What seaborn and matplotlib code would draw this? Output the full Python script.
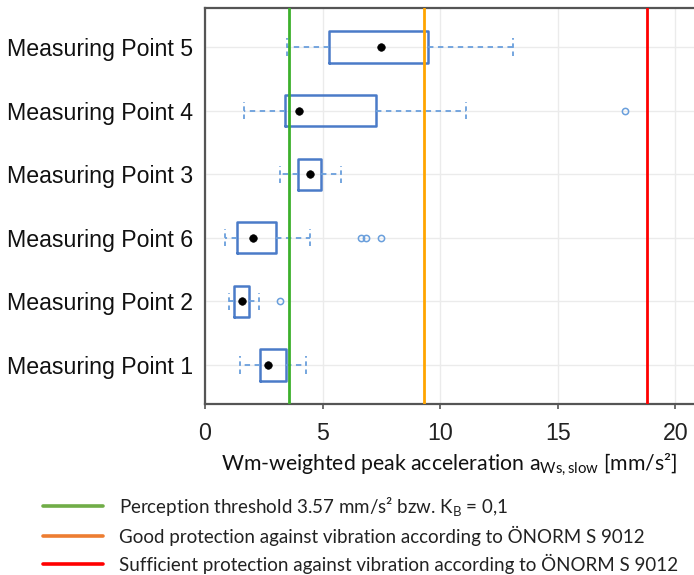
import matplotlib
matplotlib.use("Agg")
import matplotlib.pyplot as plt
from matplotlib.lines import Line2D
import seaborn as sns
import pandas as pd

# ---- data ----
points = ["Measuring Point 1", "Measuring Point 2", "Measuring Point 6",
          "Measuring Point 3", "Measuring Point 4", "Measuring Point 5"]
whisker_low = [1.49, 1.00, 0.85, 3.19, 1.67, 3.47]
q1 = [2.32, 1.25, 1.35, 3.95, 3.39, 5.27]
q3 = [3.46, 1.86, 3.02, 4.95, 7.26, 9.50]
whisker_high = [4.29, 2.31, 4.48, 5.78, 11.10, 13.08]
center_dot = [2.69, 1.56, 2.05, 4.48, 3.98, 7.47]
outliers = [[], [3.18], [6.63, 6.83, 7.47], [], [17.87], []]

thresholds = [3.57, 9.33, 18.78]
threshold_colors = ["#3cb02c", "#ffa500", "#ff0000"]
legend_colors = ["#70ad47", "#ed7d31", "#ff0000"]
legend_labels = ["Perception threshold 3.57 mm/s² bzw. K$_\\mathrm{B}$ = 0,1",
                 "Good protection against vibration according to ÖNORM S 9012",
                 "Sufficient protection against vibration according to ÖNORM S 9012"]
xticks = [0, 5, 10, 15, 20]

sns.set_theme(style="white")
plt.rcParams['font.family'] = ['Liberation Sans', 'DejaVu Sans']
plt.rcParams['mathtext.fontset'] = 'custom'
plt.rcParams['mathtext.rm'] = 'Lato'
plt.rcParams['mathtext.it'] = 'Lato:italic'

fig = plt.figure(figsize=(6.94, 5.75), dpi=100)
ax = fig.add_axes([205/694, 1-404/575, 1-205/694, (404-8)/575])

pos = list(range(len(points)))
stats = []
for i in pos:
    stats.append(dict(whislo=whisker_low[i], q1=q1[i], med=center_dot[i],
                      q3=q3[i], whishi=whisker_high[i], fliers=outliers[i]))

box_c = "#4a7bc8"
wh_c = "#6a9fdc"
ax.bxp(stats, positions=pos, vert=False, widths=0.49, capwidths=0.27,
       showfliers=True, patch_artist=False,
       boxprops=dict(color=box_c, linewidth=1.8),
       whiskerprops=dict(color=wh_c, linewidth=1.3, linestyle=(0, (3, 2.5))),
       capprops=dict(color=wh_c, linewidth=1.3, linestyle=(0, (2.5, 2))),
       medianprops=dict(linewidth=0),
       flierprops=dict(marker='o', markersize=4.5, markerfacecolor='none',
                       markeredgecolor=wh_c, markeredgewidth=1.1),
       zorder=3)

df = pd.DataFrame({"val": center_dot, "pos": pos})
sns.scatterplot(data=df, x="val", y="pos", color="black", s=30,
                edgecolor="black", ax=ax, zorder=4, legend=False)

for t, c in zip(thresholds, threshold_colors):
    ax.axvline(t, color=c, linewidth=2.0, zorder=5)

ax.set_xlim(0, 20.79)
ax.set_ylim(-0.613, 5.613)
ax.set_xticks(xticks)
ax.set_xticklabels([str(v) for v in xticks], fontsize=16.7, color="#222222")
ax.set_yticks(pos)
ax.set_yticklabels(points, fontsize=16.7, color="#111111")
ax.set_ylabel("")
ax.tick_params(axis='y', length=0, pad=8.5)
ax.tick_params(axis='x', length=3.6, width=1.2, color="#555555", pad=9, direction='out', bottom=True)
ax.grid(True, color="#ebebeb", linewidth=1.0, zorder=0)
ax.set_axisbelow(True)
for s in ["left", "bottom", "top"]:
    ax.spines[s].set_color("#555555")
    ax.spines[s].set_linewidth(1.6)
ax.spines["right"].set_visible(False)

ax.set_xlabel("Wm-weighted peak acceleration a$_\\mathrm{Ws,slow}$ [mm/s²]",
              fontsize=15.3, family=['Lato', 'DejaVu Sans'], labelpad=5, color="#111111")

handles = [Line2D([0], [0], color=c, linewidth=2.6) for c in legend_colors]
leg = fig.legend(handles, legend_labels, loc='upper left',
                 bbox_to_anchor=(43/694, 1-495/575), frameon=False,
                 borderpad=0, borderaxespad=0, handlelength=3.2,
                 handletextpad=0.85, labelspacing=0.41,
                 prop={'family': ['Lato', 'DejaVu Sans'], 'size': 13.5})
for t in leg.get_texts():
    t.set_color("#222222")

fig.savefig("out.png", dpi=100)
